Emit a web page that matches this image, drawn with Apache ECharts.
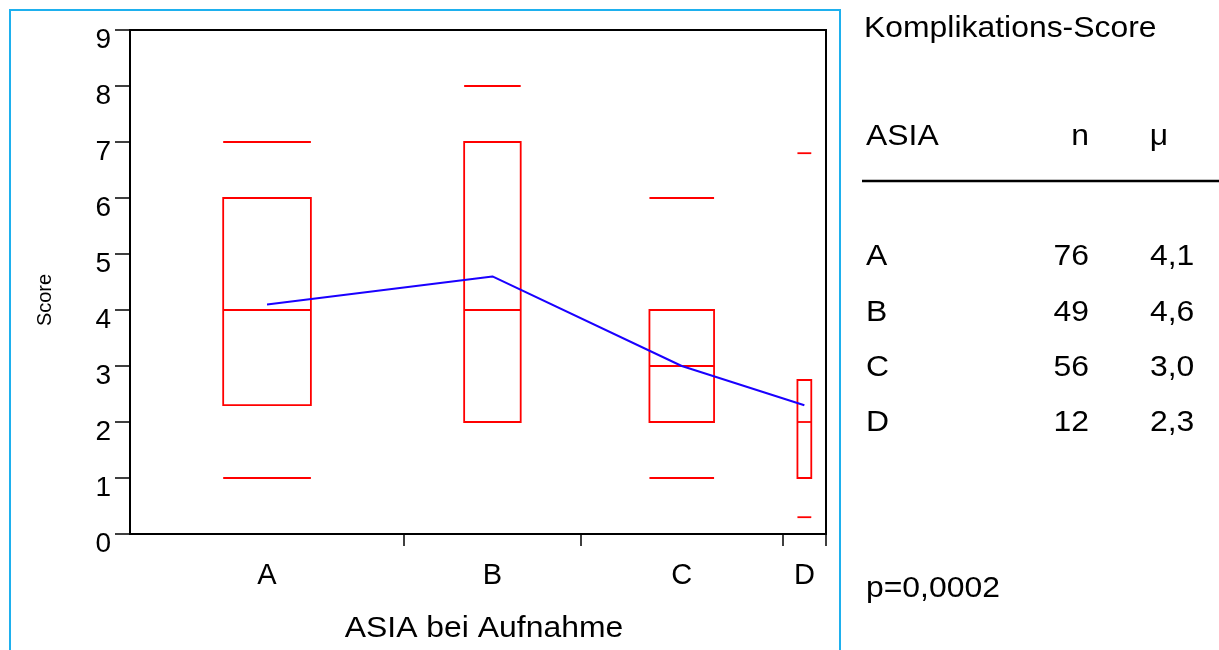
<!DOCTYPE html>
<html>
<head>
<meta charset="utf-8">
<script src="https://cdn.jsdelivr.net/npm/echarts@6/dist/echarts.min.js"></script>
<style>
  html, body { margin: 0; padding: 0; background: #fff; }
  #chart { width: 1219px; height: 650px; }
</style>
</head>
<body>
<div id="chart"></div>
<script>
// ASIA grade groups; box width is proportional to group size
const categories = ['A', 'B', 'C', 'D'];
const counts = [76, 49, 56, 12];
const q1 = [2.3, 2, 2, 1];
const medians = [4, 4, 3, 2];
const q3 = [6, 7, 4, 2.75];
const lowMarks = [1, 2, 1, 0.3];
const highMarks = [7, 8, 6, 6.8];
const means = [4.1, 4.6, 3.0, 2.3];
const yMin = 0, yMax = 9, yStep = 1;

const panelTitle = 'Komplikations-Score';
const tableHeader = ['ASIA', 'n', 'μ'];
const pLabel = 'p=0,0002';
const xTitle = 'ASIA bei Aufnahme';
const yTitle = 'Score';

const FONT = "'Liberation Sans', Arial, sans-serif";
const RED = '#ff0000';
const BLUE = '#1a00ff';
const WIDE = 1.1; // horizontal stretch of the free text

// cumulative group boundaries and group centres along the x scale
const total = counts.reduce((a, b) => a + b, 0);
const bounds = [];
const centers = [];
let acc = 0;
counts.forEach(n => { centers.push(acc + n / 2); acc += n; bounds.push(acc); });

const boxData = categories.map((c, i) => [centers[i], q1[i], medians[i], q3[i], lowMarks[i], highMarks[i], counts[i] * 0.16]);
const meanData = categories.map((c, i) => [centers[i], means[i]]);

function renderBox(params, api) {
  const cx = api.value(0);
  const hw = api.value(6);
  const xl = api.coord([cx - hw, 0])[0];
  const xr = api.coord([cx + hw, 0])[0];
  const yOf = v => api.coord([cx, v])[1];
  const st = { stroke: RED, lineWidth: 1.8, fill: 'none' };
  const hline = v => ({ type: 'line', shape: { x1: xl, y1: yOf(v), x2: xr, y2: yOf(v) }, style: st });
  const yTop = yOf(api.value(3));
  const yBot = yOf(api.value(1));
  return {
    type: 'group',
    children: [
      { type: 'rect', shape: { x: xl, y: yTop, width: xr - xl, height: yBot - yTop }, style: st },
      hline(api.value(2)),
      hline(api.value(4)),
      hline(api.value(5))
    ]
  };
}

const fmt = v => v.toFixed(1).replace('.', ',');

// side panel: title, table of n and mean per group, p-value
const panel = [];
const txt = (text, x, y, align) => ({
  type: 'text', x, y, scaleX: WIDE,
  style: { text, font: `29px ${FONT}`, fill: '#000', align: align || 'left', verticalAlign: 'middle' }
});
panel.push(txt(panelTitle, 864, 29));
panel.push(txt(tableHeader[0], 866, 137));
panel.push(txt(tableHeader[1], 1080, 137, 'center'));
panel.push(txt(tableHeader[2], 1159, 137, 'center'));
panel.push({ type: 'line', shape: { x1: 862, y1: 181, x2: 1219, y2: 181 }, style: { stroke: '#000', lineWidth: 2.6 } });
const rowY = [257, 313, 368, 423];
categories.forEach((c, i) => {
  panel.push(txt(c, 866, rowY[i]));
  panel.push(txt(String(counts[i]), 1089, rowY[i], 'right'));
  panel.push(txt(fmt(means[i]), 1150, rowY[i]));
});
panel.push(txt(pLabel, 866, 589));

// outer frame around the plot part
panel.push({ type: 'rect', shape: { x: 10, y: 10, width: 830, height: 660 }, style: { stroke: '#1eb0ee', lineWidth: 2, fill: 'none' } });
// axis titles
panel.push({ type: 'text', x: 484, y: 629, scaleX: WIDE, style: { text: xTitle, font: `29px ${FONT}`, fill: '#000', align: 'center', verticalAlign: 'middle' } });
panel.push({ type: 'text', x: 45, y: 300, rotation: Math.PI / 2, style: { text: yTitle, font: `20px ${FONT}`, fill: '#000', align: 'center', verticalAlign: 'middle' } });

const chart = echarts.init(document.getElementById('chart'), null, { renderer: 'canvas' });
chart.setOption({
  animation: false,
  backgroundColor: '#fff',
  grid: { left: 130, top: 30, right: 393, bottom: 116, show: true, borderColor: '#000', borderWidth: 2, backgroundColor: 'transparent' },
  xAxis: {
    type: 'value', min: 0, max: total,
    splitLine: { show: false },
    axisLine: { lineStyle: { color: '#000', width: 2 } },
    axisTick: { customValues: bounds, length: 12, lineStyle: { color: '#000', width: 1.5 } },
    axisLabel: {
      customValues: centers,
      formatter: v => { const i = centers.findIndex(c => Math.abs(c - v) < 1e-6); return i >= 0 ? categories[i] : ''; },
      color: '#000', fontFamily: FONT, fontSize: 29, margin: 27, lineHeight: 30
    }
  },
  yAxis: {
    type: 'value', min: yMin, max: yMax, interval: yStep,
    splitLine: { show: false },
    axisLine: { show: true, lineStyle: { color: '#000', width: 2 } },
    axisTick: { length: 15, lineStyle: { color: '#000', width: 1.5 } },
    axisLabel: { color: '#000', fontFamily: FONT, fontSize: 28, margin: 19, verticalAlign: 'top', lineHeight: 20 }
  },
  series: [
    { type: 'custom', renderItem: renderBox, data: boxData, encode: { x: 0, y: [1, 2, 3, 4, 5] }, z: 3 },
    { type: 'line', data: meanData, showSymbol: false, symbol: 'none', lineStyle: { color: BLUE, width: 2 }, z: 4 }
  ],
  graphic: panel
});
</script>
</body>
</html>
